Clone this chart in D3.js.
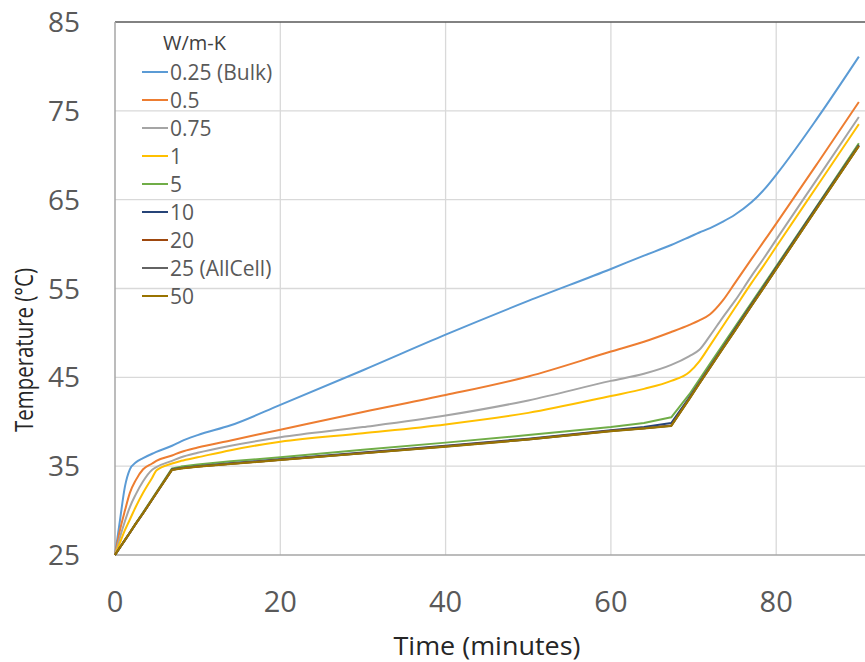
<!DOCTYPE html>
<html lang="en">
<head>
  <meta charset="UTF-8">
  <title>Temperature vs Time</title>
  <script src="https://d3js.org/d3.v7.min.js"></script>
  <style>
    body {
      margin: 0;
      background: #fff;
      font-family: "Open Sans", Arial, sans-serif;
    }
    svg {
      display: block;
    }
    .grid line {
      stroke: #d9d9d9;
      stroke-width: 1.3;
    }
    .series {
      fill: none;
      stroke-width: 2;
      stroke-linejoin: round;
    }
  </style>
</head>
<body>
  <svg id="chart"></svg>
  <script>
    // time points (minutes) shared by all series
    const time = [0, 0.6, 1.2, 1.8, 2.5, 3.4, 4.5, 5.0, 6.9, 8, 10, 14, 20, 30, 40, 50, 60,
                  64, 67.3, 69.5, 70.7, 72, 73.5, 75, 77, 78.5, 80, 85, 90];

    const labels = ["0.25 (Bulk)", "0.5", "0.75", "1", "5", "10", "20", "25 (AllCell)", "50"];
    const colors = ["#5b9bd5", "#ed7d31", "#a5a5a5", "#ffc000", "#70ad47",
                    "#264478", "#9e480e", "#636363", "#997300"];

    const k025 = [25, 28.9, 32.7, 34.65, 35.4, 35.9, 36.4, 36.6, 37.3, 37.8, 38.5, 39.6, 41.9, 45.8, 49.8, 53.6, 57.2,
                  58.7, 59.9, 60.8, 61.3, 61.8, 62.5, 63.3, 64.7, 66.1, 67.8, 74.2, 81.1];
    const k05  = [25, 27.8, 30.0, 32.0, 33.4, 34.65, 35.3, 35.6, 36.2, 36.6, 37.1, 37.9, 39.1, 41.1, 43.0, 45.1, 47.9,
                  49.0, 50.1, 50.9, 51.4, 52.1, 53.6, 55.6, 58.3, 60.3, 62.3, 69.1, 76.0];
    const k075 = [25, 27.0, 28.8, 30.4, 31.8, 33.3, 34.6, 34.9, 35.6, 36.0, 36.5, 37.3, 38.25, 39.4, 40.7, 42.4, 44.6,
                  45.4, 46.4, 47.4, 48.1, 49.7, 51.7, 53.6, 56.4, 58.4, 60.5, 67.4, 74.3];
    const k1   = [25, 26.4, 27.8, 29.0, 30.4, 32.0, 33.7, 34.5, 35.3, 35.6, 36.0, 36.8, 37.75, 38.7, 39.7, 41.0, 42.9,
                  43.7, 44.6, 45.6, 46.8, 48.6, 50.7, 52.8, 55.6, 57.6, 59.7, 66.6, 73.5];
    const k5   = [25, 25.85, 26.7, 27.55, 28.55, 29.8, 31.35, 32.05, 34.75, 34.95, 35.2, 35.55, 36.0, 36.85, 37.65, 38.5, 39.4,
                  39.85, 40.5, 43.1, 44.75, 46.55, 48.6, 50.65, 53.4, 55.45, 57.5, 64.4, 71.35];
    const k10  = [25, 25.84, 26.67, 27.5, 28.5, 29.7, 31.25, 31.95, 34.65, 34.8, 35.0, 35.32, 35.78, 36.55, 37.3, 38.1, 39.05,
                  39.4, 39.85, 42.75, 44.4, 46.2, 48.3, 50.4, 53.2, 55.25, 57.35, 64.3, 71.15];
    const k20  = [25, 25.84, 26.67, 27.5, 28.5, 29.7, 31.25, 31.95, 34.6, 34.77, 34.97, 35.27, 35.72, 36.48, 37.23, 38.03, 38.98,
                  39.28, 39.57, 42.62, 44.32, 46.12, 48.22, 50.27, 53.07, 55.12, 57.22, 64.17, 71.07];
    const k25  = [25, 25.84, 26.67, 27.5, 28.5, 29.7, 31.25, 31.95, 34.6, 34.76, 34.96, 35.26, 35.71, 36.46, 37.21, 38.01, 38.96,
                  39.26, 39.55, 42.6, 44.3, 46.1, 48.2, 50.25, 53.05, 55.1, 57.2, 64.15, 71.05];
    const k50  = [25, 25.84, 26.67, 27.5, 28.5, 29.7, 31.25, 31.95, 34.58, 34.74, 34.94, 35.24, 35.69, 36.44, 37.19, 37.99, 38.94,
                  39.24, 39.53, 42.58, 44.28, 46.08, 48.18, 50.23, 53.03, 55.08, 57.18, 64.13, 71.03];

    const seriesValues = [k025, k05, k075, k1, k5, k10, k20, k25, k50];

    const xTicks = [0, 20, 40, 60, 80];
    const yTicks = [25, 35, 45, 55, 65, 75, 85];

    const width = 865;
    const height = 662;
    const margin = { top: 22, left: 115, bottom: 107 };

    const svg = d3.select("#chart")
      .attr("width", width)
      .attr("height", height);

    // the plot runs past the right edge of the picture
    const x = d3.scaleLinear().domain([0, 100]).range([margin.left, margin.left + 826.5]);
    const y = d3.scaleLinear().domain([25, 85]).range([height - margin.bottom, margin.top]);

    // gridlines
    const grid = svg.append("g").attr("class", "grid");
    grid.selectAll(".h")
      .data(yTicks.slice(1, -1))
      .enter().append("line")
      .attr("x1", x(0)).attr("x2", x(100))
      .attr("y1", d => y(d)).attr("y2", d => y(d));
    grid.selectAll(".v")
      .data(xTicks.slice(1).concat([100]))
      .enter().append("line")
      .attr("x1", d => x(d)).attr("x2", d => x(d))
      .attr("y1", y(25)).attr("y2", y(85));

    // plot frame
    svg.append("line")
      .attr("x1", x(0)).attr("x2", x(100))
      .attr("y1", y(85)).attr("y2", y(85))
      .attr("stroke", "#595959").attr("stroke-width", 1.5);
    svg.append("line")
      .attr("x1", x(0)).attr("x2", x(0))
      .attr("y1", y(25)).attr("y2", y(85))
      .attr("stroke", "#a6a6a6").attr("stroke-width", 1.5);
    svg.append("line")
      .attr("x1", x(0)).attr("x2", x(100))
      .attr("y1", y(25)).attr("y2", y(25))
      .attr("stroke", "#a6a6a6").attr("stroke-width", 1.5);

    // series lines: the low-conductivity runs are smooth, the rest have sharp corners
    const smoothLine = d3.line()
      .x((d, i) => x(time[i]))
      .y(d => y(d))
      .curve(d3.curveMonotoneX);
    const sharpLine = d3.line()
      .x((d, i) => x(time[i]))
      .y(d => y(d));

    svg.append("g")
      .selectAll("path")
      .data(seriesValues)
      .enter().append("path")
      .attr("class", "series")
      .attr("stroke", (d, i) => colors[i])
      .attr("d", (d, i) => (i < 4 ? smoothLine(d) : sharpLine(d)));

    // y tick labels
    svg.append("g")
      .selectAll("text")
      .data(yTicks)
      .enter().append("text")
      .attr("x", 80)
      .attr("y", d => y(d) + 10)
      .attr("text-anchor", "end")
      .attr("font-size", 28)
      .attr("fill", "#595959")
      .text(d => d);

    // x tick labels
    svg.append("g")
      .selectAll("text")
      .data(xTicks)
      .enter().append("text")
      .attr("x", d => x(d))
      .attr("y", 612)
      .attr("text-anchor", "middle")
      .attr("font-size", 29)
      .attr("fill", "#595959")
      .text(d => d);

    // axis titles
    svg.append("text")
      .attr("x", 487)
      .attr("y", 655)
      .attr("text-anchor", "middle")
      .attr("font-size", 26)
      .attr("fill", "#262626")
      .attr("textLength", 187)
      .attr("lengthAdjust", "spacingAndGlyphs")
      .text("Time (minutes)");

    svg.append("text")
      .attr("transform", "translate(33,350) rotate(-90)")
      .attr("text-anchor", "middle")
      .attr("font-size", 25)
      .attr("fill", "#262626")
      .attr("textLength", 164)
      .attr("lengthAdjust", "spacingAndGlyphs")
      .text("Temperature (°C)");

    // legend
    const legend = svg.append("g");
    legend.append("text")
      .attr("x", 163)
      .attr("y", 50)
      .attr("font-size", 20)
      .attr("fill", "#404040")
      .text("W/m-K");

    const rows = legend.selectAll(".row")
      .data(labels)
      .enter().append("g")
      .attr("transform", (d, i) => `translate(0, ${72 + i * 28})`);
    rows.append("line")
      .attr("x1", 142).attr("x2", 168)
      .attr("stroke", (d, i) => colors[i])
      .attr("stroke-width", 2);
    rows.append("text")
      .attr("x", 170)
      .attr("y", 7.5)
      .attr("font-size", 21)
      .attr("fill", "#595959")
      .text(d => d);
  </script>
</body>
</html>
